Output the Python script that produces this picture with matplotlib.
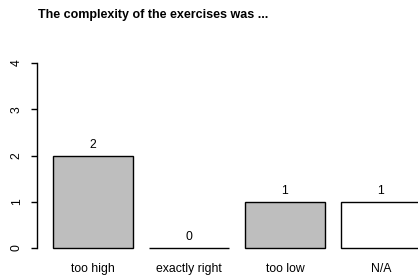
import matplotlib
matplotlib.use("Agg")
import matplotlib.pyplot as plt

categories = ["too high", "exactly right", "too low", "N/A"]
counts = [2, 0, 1, 1]
fill_colors = ["#BEBEBE", "#BEBEBE", "#BEBEBE", "#FFFFFF"]
y_ticks = [0, 1, 2, 3, 4]
title = "The complexity of the exercises was ..."

plt.rcParams["font.family"] = ["Liberation Sans", "DejaVu Sans"]

W, H = 418, 279
fig = plt.figure(figsize=(W / 100, H / 100), dpi=100)
ax = fig.add_axes([37 / W, 31 / H, 381 / W, 185 / H])

# R barplot layout: width 1, space 0.2
lefts = [0.2 + i * 1.2 for i in range(len(counts))]
centers = [l + 0.5 for l in lefts]
ax.bar(lefts, counts, width=1.0, align="edge", color=fill_colors,
       edgecolor="black", linewidth=1.0, clip_on=False)

for c, v in zip(centers, counts):
    ax.annotate(str(v), (c, v), xytext=(0, 3.5), textcoords="offset points",
                ha="center", va="bottom", fontsize=8.8)

ax.set_xlim(0, 381 / 80)
ax.set_ylim(0, 4)
for s in ["top", "right", "bottom"]:
    ax.spines[s].set_visible(False)
ax.spines["left"].set_linewidth(1.0)

ax.set_yticks(y_ticks)
ax.set_yticklabels([str(t) for t in y_ticks], rotation=90, va="center")
ax.tick_params(axis="y", length=4.3, width=1.0, pad=6, labelsize=8.8)

ax.set_xticks(centers)
ax.set_xticklabels(categories)
ax.tick_params(axis="x", length=0, pad=10.5, labelsize=8.8)

fig.text(38 / W, 1 - 15 / H, title, ha="left", va="center",
         fontsize=9.0, fontweight="bold")

fig.savefig("out.png", dpi=100, facecolor="white")
